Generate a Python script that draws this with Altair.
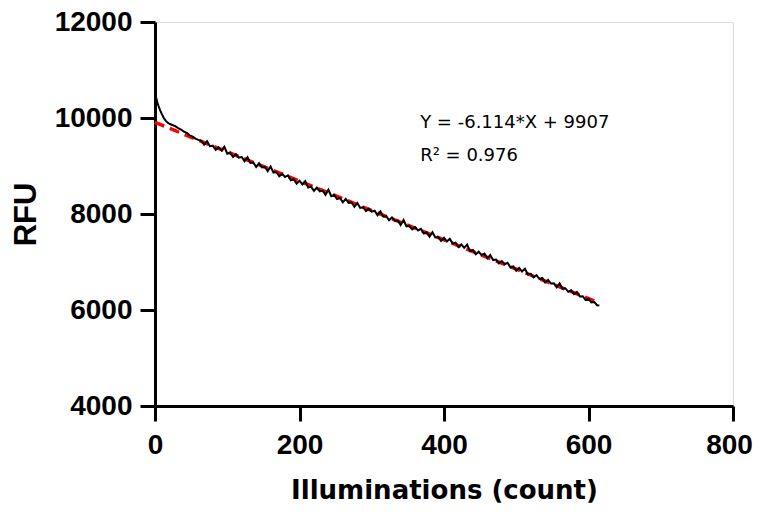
import altair as alt
import pandas as pd

# measured trace (illumination count, RFU)
x_vals = list(range(0, 21)) + list(range(24, 613, 4)) + [615]
rfu_vals = [
    10520, 10460, 10400, 10340, 10290, 10245, 10205, 10165, 10130, 10095,
    10065, 10035, 10005, 9980, 9960, 9940, 9925, 9910, 9900, 9890, 9880,
    # 24..60
    9855, 9830, 9790, 9760, 9715, 9690, 9640, 9610, 9570, 9545,
    # 64..
    9526, 9446, 9517, 9412, 9423, 9338, 9389, 9324, 9400, 9256,
    9281, 9187, 9247, 9173, 9188, 9099, 9184, 9065, 9075, 8981,
    9057, 8972, 8983, 8893, 8989, 8864, 8875, 8785, 8836, 8771,
    8807, 8703, 8723, 8634, 8694, 8615, 8685, 8551, 8571, 8482,
    8552, 8473, 8489, 8399, 8505, 8370, 8396, 8311, 8332, 8242,
    8313, 8233, 8244, 8150, 8230, 8126, 8141, 8062, 8112, 8048,
    8068, 7974, 8054, 7945, 7956, 7871, 7927, 7857, 7868, 7768,
    7874, 7744, 7755, 7680, 7726, 7657, 7692, 7593, 7618, 7529,
    7619, 7510, 7520, 7441, 7506, 7427, 7482, 7383, 7404, 7314,
    7365, 7295, 7361, 7226, 7252, 7162, 7213, 7143, 7174, 7075,
    7145, 7041, 7051, 6972, 7017, 6953, 6983, 6884, 6909, 6820,
    6876, 6801, 6862, 6742, 6753, 6678, 6724, 6649, 6670, 6575,
    6626, 6551, 6557, 6473, 6553, 6444, 6454, 6380, 6410, 6331,
    6376, 6282, 6287, 6208, 6234, 6159, 6165, 6100,
    # 615
    6092,
]

# linear fit end points
fit_x = [0, 608]
fit_y = [9907, 6190]

# annotation
ann_x = [367, 367]
ann_y = [9783, 9112]
ann_text = ["Y = -6.114*X + 9907", "R\u00b2 = 0.976"]

x_ticks = [0, 200, 400, 600, 800]
y_ticks = [4000, 6000, 8000, 10000, 12000]

trace = pd.DataFrame({"x": x_vals, "y": rfu_vals})
fit = pd.DataFrame({"x": fit_x, "y": fit_y})
ann = pd.DataFrame({"x": ann_x, "y": ann_y, "t": ann_text})

xs = alt.Scale(domain=[0, 800], nice=False, zero=False)
ys = alt.Scale(domain=[4000, 12000], nice=False, zero=False)

x_axis = alt.Axis(
    title="Illuminations (count)", values=x_ticks, grid=False, format="d",
    domainColor="black", domainWidth=3, tickColor="black", tickWidth=3,
    tickSize=15, labelFont="Liberation Sans", labelFontSize=28,
    labelFontWeight="bold", labelColor="black", labelPadding=10,
    labelOffset={"condition": {"test": "datum.value === 800", "value": -4}, "value": 0},
    titleFont="DejaVu Sans", titleFontSize=26, titleFontWeight="bold",
    titleColor="black", titlePadding=18, labelFlush=False,
)
y_axis = alt.Axis(
    title="RFU", values=y_ticks, grid=False, format="d",
    domainColor="black", domainWidth=3, tickColor="black", tickWidth=3,
    tickSize=15, labelFont="Liberation Sans", labelFontSize=28,
    labelFontWeight="bold", labelColor="black", labelPadding=8,
    titleFont="Liberation Sans", titleFontSize=31, titleFontWeight="bold",
    titleColor="black", titlePadding=12, labelFlush=False,
)

fit_line = alt.Chart(fit).mark_line(
    color="#ff0000", strokeWidth=3.5, strokeDash=[10, 6]
).encode(
    x=alt.X("x:Q", scale=xs, axis=x_axis),
    y=alt.Y("y:Q", scale=ys, axis=y_axis),
)

trace_line = alt.Chart(trace).mark_line(
    color="black", strokeWidth=2
).encode(
    x=alt.X("x:Q", scale=xs),
    y=alt.Y("y:Q", scale=ys),
)

labels = alt.Chart(ann).mark_text(
    align="left", baseline="alphabetic", font="DejaVu Sans",
    fontSize=18, color="black"
).encode(
    x=alt.X("x:Q", scale=xs),
    y=alt.Y("y:Q", scale=ys),
    text="t:N",
)

chart = alt.layer(fit_line, trace_line, labels).properties(
    width=578, height=384,
    autosize=alt.AutoSizeParams(type="none"),
    padding={"left": 147, "top": 14, "right": 20, "bottom": 98},
).configure_view(stroke=None).configure(background="white")

chart.save("out.html", embed_options={"renderer": "svg", "actions": False})
